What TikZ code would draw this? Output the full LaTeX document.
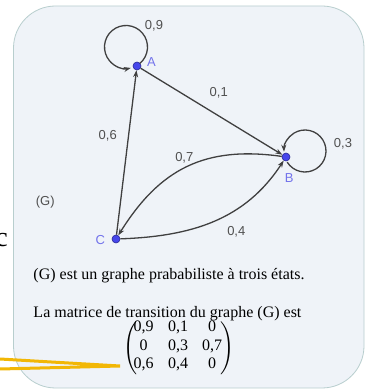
\documentclass[tikz,border=0pt]{standalone}
\usepackage{amsmath}
\usepackage{graphicx}
\usepackage{fontspec}
\setmainfont{Liberation Serif}
\newfontfamily\lblfont{Liberation Sans}
\usetikzlibrary{arrows.meta}
\definecolor{boxfill}{RGB}{239,243,248}
\definecolor{boxline}{RGB}{184,206,206}
\definecolor{edgecol}{RGB}{64,64,64}
\definecolor{dotfill}{RGB}{70,70,235}
\definecolor{dotline}{RGB}{40,40,150}
\definecolor{lblblue}{RGB}{115,115,235}
\definecolor{lblgrey}{RGB}{80,80,80}
\definecolor{hilite}{RGB}{242,183,5}
\begin{document}
\begin{tikzpicture}[x=1pt,y=1pt,
  vertex/.style={circle,fill=dotfill,draw=dotline,line width=0.6pt,inner sep=0pt,minimum size=8pt},
  edgeline/.style={draw=edgecol,line width=1.3pt,-{Stealth[length=7pt,width=5pt]}},
  prob/.style={font=\lblfont\fontsize{13}{15}\selectfont,text=lblgrey,inner sep=0pt},
  vname/.style={font=\lblfont\fontsize{13}{15}\selectfont,text=lblblue,inner sep=0pt},
  body/.style={font=\fontsize{16}{19}\selectfont,inner sep=0pt,anchor=base west},
  entry/.style={font=\fontsize{16}{19}\selectfont,inner sep=0pt,anchor=base},
  paren/.style={inner sep=0pt}]
\useasboundingbox (0,0) rectangle (374,389);
\fill[white] (0,0) rectangle (374,389);
% clipped letter at the left edge
\node[font=\fontsize{28}{32}\selectfont,inner sep=0pt,anchor=base east] (cut) at (8,142) {c};
% panel
\path[fill=boxfill,draw=boxline,line width=0.8pt,rounded corners=42pt] (13.5,1) rectangle (364,383);
% vertices
\node[vertex] (A) at (137,323) {};
\node[vertex] (B) at (286,232) {};
\node[vertex] (C) at (116,150) {};
\coordinate (cA) at (126,342);
\coordinate (cB) at (305,238);
% edges
\draw[edgeline] (C) -- (A);
\draw[edgeline] (A) -- (B);
\draw[edgeline] (B) to[out=172,in=58,looseness=1.1] (C);
\draw[edgeline] (C) to[out=2,in=237] (B);
\draw[edgeline] ([shift={(-50:21.5)}]cA) arc[start angle=-50,end angle=283,radius=21.5];
\draw[edgeline] ([shift={(212:21)}]cB) arc[start angle=212,end angle=542,radius=21];
% vertex names
\node[vname] (lA) at (151.5,327.3) {A};
\node[vname] (lB) at (289.2,210.7) {B};
\node[vname] (lC) at (100.3,149.3) {C};
% probabilities
\node[prob] (p9) at (154,363) {0,9};
\node[prob] (p1) at (218.7,296.5) {0,1};
\node[prob] (p6) at (107.7,253.3) {0,6};
\node[prob] (p7) at (184.3,231) {0,7};
\node[prob] (p4) at (236.3,157.7) {0,4};
\node[prob] (p3) at (343,245.7) {0,3};
\node[prob] (g) at (45.3,187.3) {(G)};
% text
\node[body] (t1) at (33.3,109.7) {(G) est un graphe prababiliste à trois états.};
\node[body] (t2) at (33.3,71.7) {La matrice de transition du graphe (G) est};
% matrix
\node[entry] (m11) at (143.5,57.5) {0,9};
\node[entry] (m12) at (178,57.5) {0,1};
\node[entry] (m13) at (212,57.5) {0};
\node[entry] (m21) at (143.5,38.8) {0};
\node[entry] (m22) at (178,38.8) {0,3};
\node[entry] (m23) at (212,38.8) {0,7};
\node[entry] (m31) at (143.5,20) {0,6};
\node[entry] (m32) at (178,20) {0,4};
\node[entry] (m33) at (212,20) {0};
\node[paren] (lp) at (130.5,40.7) {\resizebox*{!}{53pt}{$\Bigg($}};
\node[paren] (rp) at (227.5,40.7) {\resizebox*{!}{53pt}{$\Bigg)$}};
% highlight lines
\coordinate (h1) at (0,30);
\coordinate (h2) at (0,20);
\coordinate (h3) at (120,23);
\draw[hilite,line width=3pt,line cap=round] (h1) -- (h3) -- (h2);
\end{tikzpicture}
\end{document}
